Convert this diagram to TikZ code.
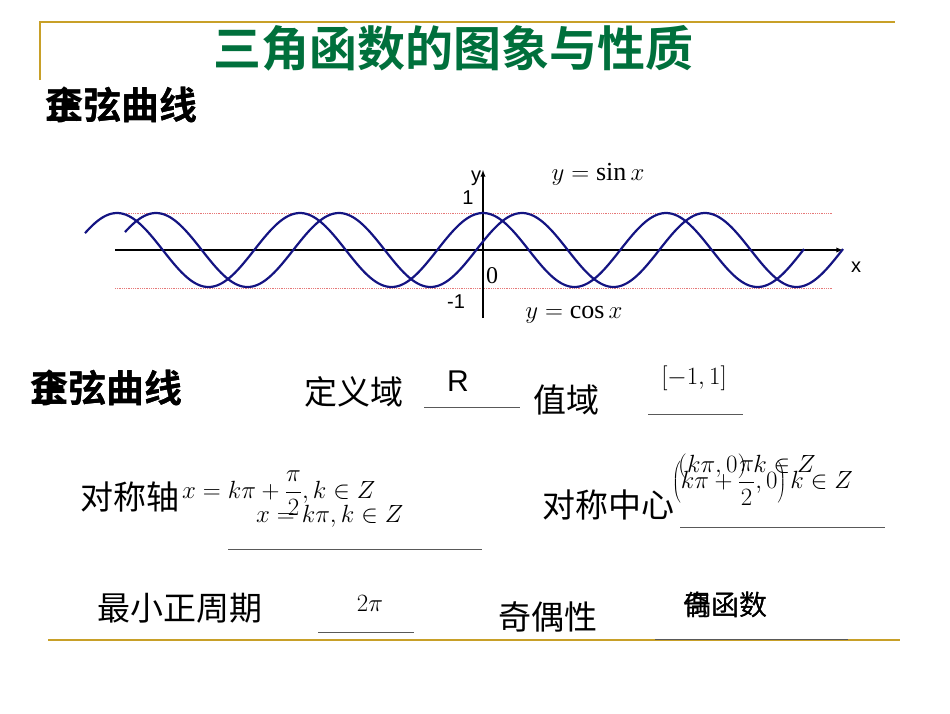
\documentclass[tikz,border=0pt]{standalone}
\usepackage{fontspec}
\setmainfont{Liberation Serif}
\newfontfamily\cjk{Noto Sans CJK SC}
\newfontfamily\cjkb{Noto Sans CJK SC Bold}
\newfontfamily\sans{Liberation Sans}
\definecolor{ttl}{RGB}{0,112,60}
\definecolor{gold}{RGB}{200,160,40}
\definecolor{curve}{RGB}{20,20,130}
\definecolor{dotr}{RGB}{230,120,120}
\begin{document}
\begin{tikzpicture}[x=1pt,y=-1pt,
  lbl/.style={inner sep=0,font=\cjk\fontsize{33}{33}\selectfont},
  hd/.style={inner sep=0,font=\cjkb\fontsize{38}{38}\selectfont},
  fm/.style={inner sep=0,font=\fontsize{32}{32}\selectfont},
  ul/.style={line width=0.8pt,gray!70!black},
  cv/.style={curve,line width=2.2pt}]
\useasboundingbox (0,0) rectangle (950,713);
\draw[gold,line width=1.5pt] (40,80) -- (40,22) -- (895,22);
\draw[gold,line width=1.5pt] (48,640) -- (900,640);
\node[inner sep=0,font=\cjkb\fontsize{48}{48}\selectfont,text=ttl] (title) at (453,48) {三角函数的图象与性质};
\node[hd,anchor=west] (h1a) at (45,105) {正弦曲线};
\node[hd,anchor=west] (h1b) at (45,105) {余弦曲线};
% graph
\draw[dotr,densely dotted,line width=0.8pt] (115,213) -- (833,213);
\draw[dotr,densely dotted,line width=0.8pt] (115,288) -- (833,288);
\draw[line width=1.3pt,-latex] (115,250) -- (843,250);
\draw[line width=1.3pt,-latex] (483,318) -- (483,170);
\draw[cv,domain=85:804,samples=300] plot (\x,{250-37*cos((\x-483)/183*360)});
\draw[cv,domain=125:843,samples=300] plot (\x,{250-37*cos((\x-522)/183*360)});
\node[inner sep=0,font=\sans\fontsize{20}{20}\selectfont] (ly) at (476,178) {y};
\node[inner sep=0,font=\sans\fontsize{20}{20}\selectfont] (l1) at (468,198) {1};
\node[inner sep=0,font=\sans\fontsize{20}{20}\selectfont] (lm1) at (456,302) {-1};
\node[inner sep=0,font=\fontsize{24}{24}\selectfont] (l0) at (492,276) {0};
\node[inner sep=0,font=\sans\fontsize{20}{20}\selectfont] (lx) at (856,267) {x};
\node[inner sep=0,font=\fontsize{26}{26}\selectfont] (ls) at (598,174) {$y=\mathrm{sin}\,x$};
\node[inner sep=0,font=\fontsize{26}{26}\selectfont] (lc) at (574,315) {$y=\mathrm{cos}\,x$};
% properties
\node[hd,anchor=west] (h2a) at (30,388) {正弦曲线};
\node[hd,anchor=west] (h2b) at (30,388) {余弦曲线};
\node[lbl] (dy) at (354,392) {定义域};
\node[inner sep=0,font=\sans\fontsize{30}{30}\selectfont] (R) at (458,381) {R};
\draw[ul] (424,407) -- (520,407);
\node[lbl] (zy) at (566,400) {值域};
\node[fm] (rng) at (694,378) {$[-1,1]$};
\draw[ul] (648,414) -- (743,414);
\node[lbl] (dcz) at (130,497) {对称轴};
\node[fm,anchor=west] (f1) at (182,493) {$\displaystyle x=k\pi+\frac{\pi}{2},k\in Z$};
\node[fm,anchor=west] (f2) at (256,516) {$x=k\pi,k\in Z$};
\draw[ul] (228,549) -- (482,549);
\node[lbl] (dzx) at (608,505) {对称中心};
\node[fm,anchor=west] (f3) at (672,483) {$\displaystyle\left(k\pi+\frac{\pi}{2},0\right)k\in Z$};
\node[fm,anchor=west] (f4) at (678,466) {$(k\pi,0)\;k\in Z$};
\draw[ul] (680,527) -- (885,527);
\node[lbl] (zq) at (180,608) {最小正周期};
\node[inner sep=0,font=\fontsize{38}{38}\selectfont] (tp) at (370,603) {$2\pi$};
\draw[ul] (318,632) -- (414,632);
\node[lbl] (jo) at (548,617) {奇偶性};
\node[inner sep=0,font=\cjk\fontsize{28}{28}\selectfont] (o1) at (725,605) {偶函数};
\node[inner sep=0,font=\cjk\fontsize{28}{28}\selectfont] (o2) at (725,605) {奇函数};
\draw[ul] (655,639) -- (848,639);
\end{tikzpicture}
\end{document}
